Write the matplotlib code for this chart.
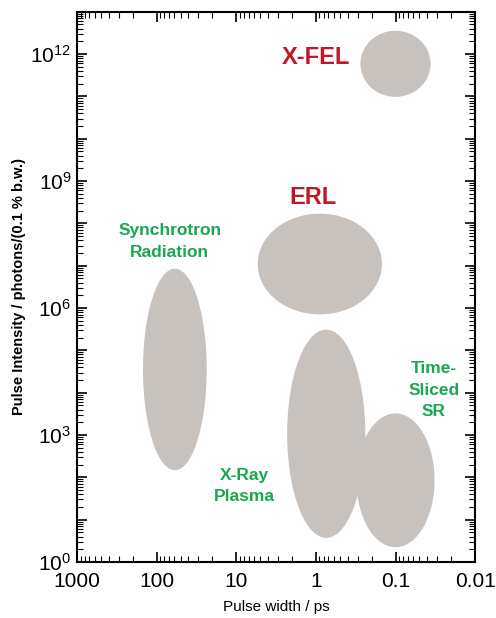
import numpy as np
import matplotlib.pyplot as plt
from matplotlib.ticker import LogLocator, FuncFormatter, NullFormatter

plt.rcParams['font.family'] = ['Liberation Sans', 'DejaVu Sans']

# sources: centre (log10 of pulse width in ps, log10 of intensity) and half-extents in decades
names = ['X-FEL', 'ERL', 'Synchrotron', 'X-Ray Plasma', 'Time-Sliced SR']
log_width = [-1.0, -0.05, 1.77, -0.13, -1.0]
log_intensity = [11.77, 7.04, 4.55, 3.03, 1.93]
half_dx = [0.44, 0.78, 0.40, 0.49, 0.49]
half_dy = [0.78, 1.19, 2.38, 2.46, 1.58]

labels = ['X-FEL', 'ERL', 'Synchrotron\nRadiation', 'X-Ray\nPlasma', 'Time-\nSliced\nSR']
label_x = [1.0, 1.08, 68, 7.8, 0.033]
label_y = [10**11.91, 10**8.61, 10**7.57, 10**1.80, 10**4.06]
label_color = ['#c0182a', '#c0182a', '#18a850', '#18a850', '#18a850']
label_size = [17, 17, 12.5, 12.5, 12.5]

fig = plt.figure(figsize=(4.96, 6.18), dpi=100)
ax = fig.add_axes([0.155, 0.0906, 0.803, 0.8904])
ax.set_xscale('log')
ax.set_yscale('log')

t = np.linspace(0, 2 * np.pi, 200)
for cx, cy, rx, ry in zip(log_width, log_intensity, half_dx, half_dy):
    ax.fill(10 ** (cx + rx * np.cos(t)), 10 ** (cy + ry * np.sin(t)),
            color='#c8c2bf', lw=0)

for s, x, y, c, fs in zip(labels, label_x, label_y, label_color, label_size):
    ax.text(x, y, s, color=c, fontsize=fs, fontweight='bold',
            ha='center', va='center', linespacing=1.55)

ax.set_xlim(1000, 0.01)
ax.set_ylim(1, 1e13)

ax.xaxis.set_major_locator(LogLocator(base=10, numticks=10))
ax.xaxis.set_minor_locator(LogLocator(base=10, subs=np.arange(2, 10), numticks=10))
ax.xaxis.set_major_formatter(FuncFormatter(lambda v, p: ('%g' % v)))
ax.xaxis.set_minor_formatter(NullFormatter())

ax.yaxis.set_major_locator(LogLocator(base=10, numticks=20))
ax.yaxis.set_minor_locator(LogLocator(base=10, subs=np.arange(2, 10), numticks=20))


def ylab(v, p):
    e = int(round(np.log10(v)))
    return r'$\mathregular{10^{%d}}$' % e if e % 3 == 0 else ''


ax.yaxis.set_major_formatter(FuncFormatter(ylab))
ax.yaxis.set_minor_formatter(NullFormatter())

ax.tick_params(which='both', direction='in', top=True, right=True, labelsize=15)
ax.tick_params(which='major', length=7, width=1.2)
ax.tick_params(which='minor', length=4, width=0.8)
ax.tick_params(axis='x', which='major', pad=7)
ax.tick_params(axis='y', which='major', pad=4)
for sp in ax.spines.values():
    sp.set_linewidth(1.5)

ax.set_xlabel('Pulse width / ps', fontsize=11, labelpad=7)
ax.set_ylabel('Pulse Intensity / photons/(0.1 % b.w.)', fontsize=10.5,
              fontweight='bold', labelpad=3)

fig.savefig('out.png', dpi=100)
